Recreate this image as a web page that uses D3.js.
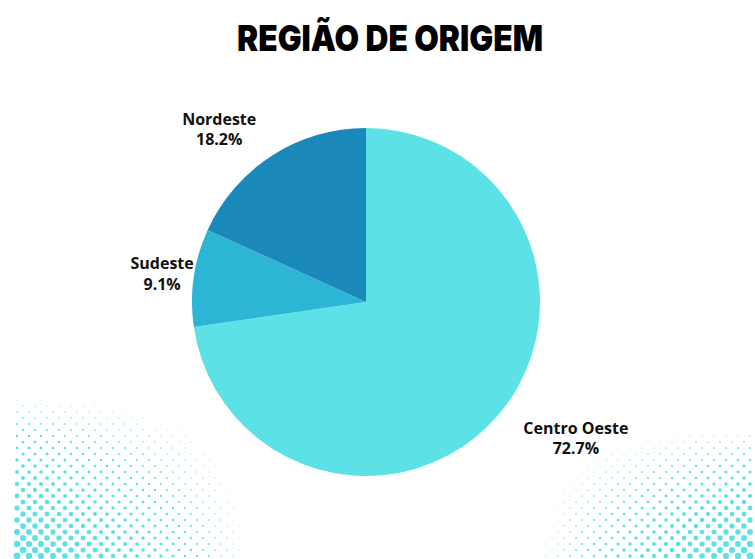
<!DOCTYPE html>
<html>
<head>
<meta charset="utf-8">
<script src="https://cdn.jsdelivr.net/npm/d3@7"></script>
<style>
  body { margin: 0; background: #fff; }
  svg { display: block; }
</style>
</head>
<body>
<svg id="chart"></svg>
<script>
// data
var regions = ["Centro Oeste", "Sudeste", "Nordeste"];
var shares = [72.7, 9.1, 18.2];
var colors = ["#5ce1e6", "#2cb5d4", "#1a89b9"];
var title = "REGIÃO DE ORIGEM";

var width = 755, height = 559;
var cx = 366, cy = 302, radius = 174;
// small hand nudges so labels sit where the original put them
var labelNudge = [[48, -4], [8, 2], [-31, 7]];

var svg = d3.select("#chart")
    .attr("width", width)
    .attr("height", height);

// halftone decoration in the bottom corners
function halftone(originX, dirX, w, h) {
  var g = svg.append("g").attr("class", "dots");
  var pts = [];
  for (var row = 0; row * 6 <= h; row++) {
    var y = height - 3 - row * 6;
    var shift = (row % 2) * 6;
    for (var col = 0; col * 12 + shift <= w; col++) {
      var dx = col * 12 + shift;
      var f = (1 - dx / w) * (1 - row * 6 / h);
      var r = 3.4 * Math.pow(f, 0.85);
      if (r > 0.45) pts.push({x: originX + dirX * dx, y: y, r: r});
    }
  }
  g.selectAll("circle")
    .data(pts)
    .enter()
    .append("circle")
    .attr("cx", function(d) { return d.x; })
    .attr("cy", function(d) { return d.y; })
    .attr("r", function(d) { return d.r; })
    .attr("fill", "#5ce1e6");
}
halftone(17, 1, 250, 175);
halftone(750, -1, 228, 140);

svg.append("text")
    .attr("x", 390)
    .attr("y", 51)
    .attr("text-anchor", "middle")
    .attr("font-family", "Inter, 'DejaVu Sans', sans-serif")
    .attr("font-weight", 900)
    .attr("font-size", 36)
    .attr("textLength", 306)
    .attr("lengthAdjust", "spacingAndGlyphs")
    .attr("fill", "#000")
    .text(title);

var pie = d3.pie().sort(null).value(function(d) { return d; });
var arcs = pie(shares);

var arc = d3.arc().innerRadius(0).outerRadius(radius);
var labelArc = d3.arc().innerRadius(radius + 40).outerRadius(radius + 40);

var g = svg.append("g").attr("transform", "translate(" + cx + "," + cy + ")");

g.selectAll("path")
    .data(arcs)
    .enter()
    .append("path")
    .attr("d", arc)
    .attr("fill", function(d, i) { return colors[i]; });

// labels outside the slices
var labels = g.selectAll("g.label")
    .data(arcs)
    .enter()
    .append("g")
    .attr("class", "label")
    .attr("transform", function(d, i) {
      var p = labelArc.centroid(d);
      return "translate(" + (p[0] + labelNudge[i][0]) + "," + (p[1] + labelNudge[i][1]) + ")";
    });

var t = labels.append("text")
    .attr("text-anchor", "middle")
    .attr("font-family", "'Open Sans', sans-serif")
    .attr("font-weight", 700)
    .attr("font-size", 16)
    .attr("fill", "#111");
t.append("tspan").attr("x", 0).attr("y", -4.5)
    .text(function(d, i) { return regions[i]; });
t.append("tspan").attr("x", 0).attr("y", 16)
    .text(function(d, i) { return d3.format(".1f")(shares[i]) + "%"; });
</script>
</body>
</html>
